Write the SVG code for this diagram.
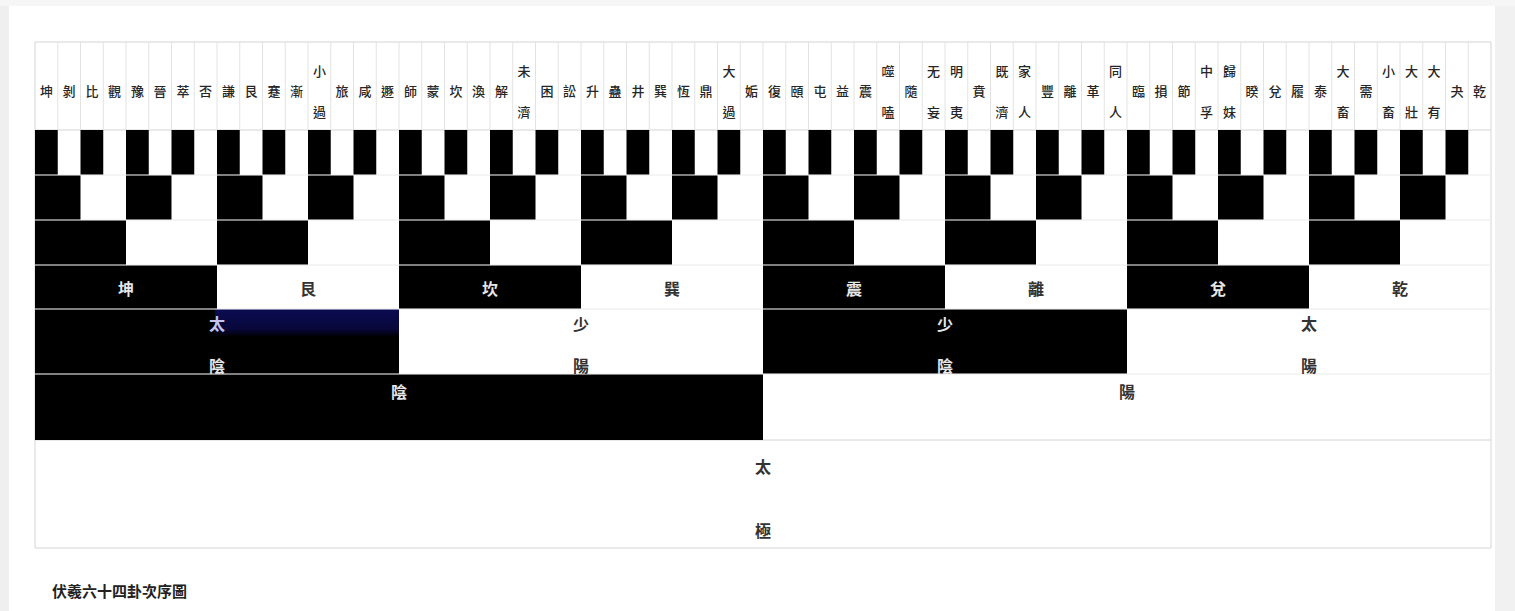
<svg xmlns="http://www.w3.org/2000/svg" width="1515" height="611" viewBox="0 0 1515 611">
<style>
text{font-family:"Noto Sans CJK TC","Noto Sans CJK SC",sans-serif;text-anchor:middle;dominant-baseline:central}
.h{font-size:13px;font-weight:500;fill:#262626}
.l{font-size:16px;font-weight:bold}
.lw{fill:#e6e6e6}
.ld{fill:#333}
.b{fill:#000}
.g{stroke:#d4d4d4;stroke-width:1;fill:none}
.gv{stroke:#e2e2e2;stroke-width:1;fill:none}
.sep{stroke:#fff;stroke-opacity:.5;stroke-width:2;fill:none}
.cap{font-size:15px;font-weight:bold;fill:#222;text-anchor:start}
</style>
<defs>
<linearGradient id="navy" x1="0" y1="0" x2="0" y2="1">
<stop offset="0" stop-color="#0b0b52"/>
<stop offset="0.7" stop-color="#08083c"/>
<stop offset="1" stop-color="#000"/>
</linearGradient>
</defs>
<rect width="1515" height="611" fill="#fff"/>
<rect x="0" y="0" width="9" height="611" fill="#efefef"/>
<rect x="1495" y="0" width="20" height="611" fill="#f1f1f1"/>
<rect x="0" y="0" width="1515" height="6" fill="#f6f6f6"/>

<g id="grid">
<path class="g" d="M35 42H1491M35 130H1491M35 175H1491M35 220H1491M35 265H1491M35 309H1491M35 374H1491M35 440H1491M35 548H1491M35 42V548M1491 42V548"/>
<path class="gv" d="M57.75 42V130M80.5 42V130M103.25 42V130M126 42V130M148.75 42V130M171.5 42V130M194.25 42V130M217 42V130M239.75 42V130M262.5 42V130M285.25 42V130M308 42V130M330.75 42V130M353.5 42V130M376.25 42V130M399 42V130M421.75 42V130M444.5 42V130M467.25 42V130M490 42V130M512.75 42V130M535.5 42V130M558.25 42V130M581 42V130M603.75 42V130M626.5 42V130M649.25 42V130M672 42V130M694.75 42V130M717.5 42V130M740.25 42V130M763 42V130M785.75 42V130M808.5 42V130M831.25 42V130M854 42V130M876.75 42V130M899.5 42V130M922.25 42V130M945 42V130M967.75 42V130M990.5 42V130M1013.25 42V130M1036 42V130M1058.75 42V130M1081.5 42V130M1104.25 42V130M1127 42V130M1149.75 42V130M1172.5 42V130M1195.25 42V130M1218 42V130M1240.75 42V130M1263.5 42V130M1286.25 42V130M1309 42V130M1331.75 42V130M1354.5 42V130M1377.25 42V130M1400 42V130M1422.75 42V130M1445.5 42V130M1468.25 42V130"/>
</g>

<g id="header">
<g id="h0"><text class="h" x="46.4" y="90">坤</text></g>
<g id="h1"><text class="h" x="69.1" y="90">剝</text></g>
<g id="h2"><text class="h" x="91.9" y="90">比</text></g>
<g id="h3"><text class="h" x="114.6" y="90">觀</text></g>
<g id="h4"><text class="h" x="137.4" y="90">豫</text></g>
<g id="h5"><text class="h" x="160.1" y="90">晉</text></g>
<g id="h6"><text class="h" x="182.9" y="90">萃</text></g>
<g id="h7"><text class="h" x="205.6" y="90">否</text></g>
<g id="h8"><text class="h" x="228.4" y="90">謙</text></g>
<g id="h9"><text class="h" x="251.1" y="90">艮</text></g>
<g id="h10"><text class="h" x="273.9" y="90">蹇</text></g>
<g id="h11"><text class="h" x="296.6" y="90">漸</text></g>
<g id="h12"><text class="h" x="319.4" y="70">小</text><text class="h" x="319.4" y="111">過</text></g>
<g id="h13"><text class="h" x="342.1" y="90">旅</text></g>
<g id="h14"><text class="h" x="364.9" y="90">咸</text></g>
<g id="h15"><text class="h" x="387.6" y="90">遯</text></g>
<g id="h16"><text class="h" x="410.4" y="90">師</text></g>
<g id="h17"><text class="h" x="433.1" y="90">蒙</text></g>
<g id="h18"><text class="h" x="455.9" y="90">坎</text></g>
<g id="h19"><text class="h" x="478.6" y="90">渙</text></g>
<g id="h20"><text class="h" x="501.4" y="90">解</text></g>
<g id="h21"><text class="h" x="524.1" y="70">未</text><text class="h" x="524.1" y="111">濟</text></g>
<g id="h22"><text class="h" x="546.9" y="90">困</text></g>
<g id="h23"><text class="h" x="569.6" y="90">訟</text></g>
<g id="h24"><text class="h" x="592.4" y="90">升</text></g>
<g id="h25"><text class="h" x="615.1" y="90">蠱</text></g>
<g id="h26"><text class="h" x="637.9" y="90">井</text></g>
<g id="h27"><text class="h" x="660.6" y="90">巽</text></g>
<g id="h28"><text class="h" x="683.4" y="90">恆</text></g>
<g id="h29"><text class="h" x="706.1" y="90">鼎</text></g>
<g id="h30"><text class="h" x="728.9" y="70">大</text><text class="h" x="728.9" y="111">過</text></g>
<g id="h31"><text class="h" x="751.6" y="90">姤</text></g>
<g id="h32"><text class="h" x="774.4" y="90">復</text></g>
<g id="h33"><text class="h" x="797.1" y="90">頤</text></g>
<g id="h34"><text class="h" x="819.9" y="90">屯</text></g>
<g id="h35"><text class="h" x="842.6" y="90">益</text></g>
<g id="h36"><text class="h" x="865.4" y="90">震</text></g>
<g id="h37"><text class="h" x="888.1" y="70">噬</text><text class="h" x="888.1" y="111">嗑</text></g>
<g id="h38"><text class="h" x="910.9" y="90">隨</text></g>
<g id="h39"><text class="h" x="933.6" y="70">无</text><text class="h" x="933.6" y="111">妄</text></g>
<g id="h40"><text class="h" x="956.4" y="70">明</text><text class="h" x="956.4" y="111">夷</text></g>
<g id="h41"><text class="h" x="979.1" y="90">賁</text></g>
<g id="h42"><text class="h" x="1001.9" y="70">既</text><text class="h" x="1001.9" y="111">濟</text></g>
<g id="h43"><text class="h" x="1024.6" y="70">家</text><text class="h" x="1024.6" y="111">人</text></g>
<g id="h44"><text class="h" x="1047.4" y="90">豐</text></g>
<g id="h45"><text class="h" x="1070.1" y="90">離</text></g>
<g id="h46"><text class="h" x="1092.9" y="90">革</text></g>
<g id="h47"><text class="h" x="1115.6" y="70">同</text><text class="h" x="1115.6" y="111">人</text></g>
<g id="h48"><text class="h" x="1138.4" y="90">臨</text></g>
<g id="h49"><text class="h" x="1161.1" y="90">損</text></g>
<g id="h50"><text class="h" x="1183.9" y="90">節</text></g>
<g id="h51"><text class="h" x="1206.6" y="70">中</text><text class="h" x="1206.6" y="111">孚</text></g>
<g id="h52"><text class="h" x="1229.4" y="70">歸</text><text class="h" x="1229.4" y="111">妹</text></g>
<g id="h53"><text class="h" x="1252.1" y="90">睽</text></g>
<g id="h54"><text class="h" x="1274.9" y="90">兌</text></g>
<g id="h55"><text class="h" x="1297.6" y="90">履</text></g>
<g id="h56"><text class="h" x="1320.4" y="90">泰</text></g>
<g id="h57"><text class="h" x="1343.1" y="70">大</text><text class="h" x="1343.1" y="111">畜</text></g>
<g id="h58"><text class="h" x="1365.9" y="90">需</text></g>
<g id="h59"><text class="h" x="1388.6" y="70">小</text><text class="h" x="1388.6" y="111">畜</text></g>
<g id="h60"><text class="h" x="1411.4" y="70">大</text><text class="h" x="1411.4" y="111">壯</text></g>
<g id="h61"><text class="h" x="1434.1" y="70">大</text><text class="h" x="1434.1" y="111">有</text></g>
<g id="h62"><text class="h" x="1456.9" y="90">夬</text></g>
<g id="h63"><text class="h" x="1479.6" y="90">乾</text></g>
</g>

<g id="row64">
<rect class="b" x="35" y="130" width="22.75" height="45"/><rect class="b" x="80.5" y="130" width="22.75" height="45"/><rect class="b" x="126" y="130" width="22.75" height="45"/><rect class="b" x="171.5" y="130" width="22.75" height="45"/>
<rect class="b" x="217" y="130" width="22.75" height="45"/><rect class="b" x="262.5" y="130" width="22.75" height="45"/><rect class="b" x="308" y="130" width="22.75" height="45"/><rect class="b" x="353.5" y="130" width="22.75" height="45"/>
<rect class="b" x="399" y="130" width="22.75" height="45"/><rect class="b" x="444.5" y="130" width="22.75" height="45"/><rect class="b" x="490" y="130" width="22.75" height="45"/><rect class="b" x="535.5" y="130" width="22.75" height="45"/>
<rect class="b" x="581" y="130" width="22.75" height="45"/><rect class="b" x="626.5" y="130" width="22.75" height="45"/><rect class="b" x="672" y="130" width="22.75" height="45"/><rect class="b" x="717.5" y="130" width="22.75" height="45"/>
<rect class="b" x="763" y="130" width="22.75" height="45"/><rect class="b" x="808.5" y="130" width="22.75" height="45"/><rect class="b" x="854" y="130" width="22.75" height="45"/><rect class="b" x="899.5" y="130" width="22.75" height="45"/>
<rect class="b" x="945" y="130" width="22.75" height="45"/><rect class="b" x="990.5" y="130" width="22.75" height="45"/><rect class="b" x="1036" y="130" width="22.75" height="45"/><rect class="b" x="1081.5" y="130" width="22.75" height="45"/>
<rect class="b" x="1127" y="130" width="22.75" height="45"/><rect class="b" x="1172.5" y="130" width="22.75" height="45"/><rect class="b" x="1218" y="130" width="22.75" height="45"/><rect class="b" x="1263.5" y="130" width="22.75" height="45"/>
<rect class="b" x="1309" y="130" width="22.75" height="45"/><rect class="b" x="1354.5" y="130" width="22.75" height="45"/><rect class="b" x="1400" y="130" width="22.75" height="45"/><rect class="b" x="1445.5" y="130" width="22.75" height="45"/>
</g>

<g id="row32">
<rect class="b" x="35" y="175" width="45.5" height="45"/><rect class="b" x="126" y="175" width="45.5" height="45"/><rect class="b" x="217" y="175" width="45.5" height="45"/><rect class="b" x="308" y="175" width="45.5" height="45"/>
<rect class="b" x="399" y="175" width="45.5" height="45"/><rect class="b" x="490" y="175" width="45.5" height="45"/><rect class="b" x="581" y="175" width="45.5" height="45"/><rect class="b" x="672" y="175" width="45.5" height="45"/>
<rect class="b" x="763" y="175" width="45.5" height="45"/><rect class="b" x="854" y="175" width="45.5" height="45"/><rect class="b" x="945" y="175" width="45.5" height="45"/><rect class="b" x="1036" y="175" width="45.5" height="45"/>
<rect class="b" x="1127" y="175" width="45.5" height="45"/><rect class="b" x="1218" y="175" width="45.5" height="45"/><rect class="b" x="1309" y="175" width="45.5" height="45"/><rect class="b" x="1400" y="175" width="45.5" height="45"/>
</g>

<g id="row16">
<rect class="b" x="35" y="220" width="91" height="45"/><rect class="b" x="217" y="220" width="91" height="45"/><rect class="b" x="399" y="220" width="91" height="45"/><rect class="b" x="581" y="220" width="91" height="45"/>
<rect class="b" x="763" y="220" width="91" height="45"/><rect class="b" x="945" y="220" width="91" height="45"/><rect class="b" x="1127" y="220" width="91" height="45"/><rect class="b" x="1309" y="220" width="91" height="45"/>
</g>

<g id="row8">
<rect class="b" x="35" y="265" width="182" height="44"/><rect class="b" x="399" y="265" width="182" height="44"/><rect class="b" x="763" y="265" width="182" height="44"/><rect class="b" x="1127" y="265" width="182" height="44"/>
</g>

<g id="row4">
<rect class="b" x="35" y="309" width="364" height="65"/>
<rect x="215" y="309" width="184" height="28" fill="url(#navy)"/>
<rect class="b" x="763" y="309" width="364" height="65"/>
</g>

<g id="row2">
<rect class="b" x="35" y="374" width="728" height="66"/>
</g>

<g id="separators">
<path class="sep" d="M35 175H1491M35 220H1491M35 265H1491M35 309H1491M35 374H1491"/>
</g>

<g id="labels">
<g id="t-kun"><text class="l lw" x="126" y="288">坤</text></g>
<g id="t-gen"><text class="l ld" x="308" y="288">艮</text></g>
<g id="t-kan"><text class="l lw" x="490" y="288">坎</text></g>
<g id="t-xun"><text class="l ld" x="672" y="288">巽</text></g>
<g id="t-zhen"><text class="l lw" x="854" y="288">震</text></g>
<g id="t-li"><text class="l ld" x="1036" y="288">離</text></g>
<g id="t-dui"><text class="l lw" x="1218" y="288">兌</text></g>
<g id="t-qian"><text class="l ld" x="1400" y="288">乾</text></g>

<g id="s-taiyin"><text class="l" x="217" y="323" fill="#c4c4ec">太</text><text class="l lw" x="217" y="365">陰</text></g>
<g id="s-shaoyang"><text class="l ld" x="581" y="323">少</text><text class="l ld" x="581" y="365">陽</text></g>
<g id="s-shaoyin"><text class="l lw" x="945" y="323">少</text><text class="l lw" x="945" y="365">陰</text></g>
<g id="s-taiyang"><text class="l ld" x="1309" y="323">太</text><text class="l ld" x="1309" y="365">陽</text></g>

<g id="y-yin"><text class="l lw" x="399" y="391">陰</text></g>
<g id="y-yang"><text class="l ld" x="1127" y="391">陽</text></g>

<g id="taiji"><text class="l ld" x="763" y="466">太</text><text class="l ld" x="763" y="530">極</text></g>
</g>

<g id="caption"><text class="cap" x="52" y="590">伏羲六十四卦次序圖</text></g>
</svg>
